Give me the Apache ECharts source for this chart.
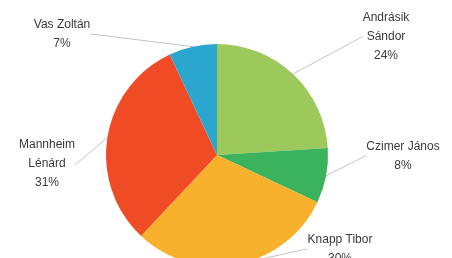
<!DOCTYPE html>
<html>
<head>
<meta charset="utf-8">
<script src="https://cdn.jsdelivr.net/npm/echarts@6/dist/echarts.min.js"></script>
<style>html,body{margin:0;padding:0;background:#fff;}#c{width:452px;height:258px;}</style>
</head>
<body>
<div id="c"></div>
<script>
const names = ['Andrásik\nSándor', 'Czimer János', 'Knapp Tibor', 'Mannheim\nLénárd', 'Vas Zoltán'];
const values = [24, 8, 30, 31, 7];
const colors = ['#9dc85b', '#3bb35c', '#f8b12d', '#ef4b24', '#2aa6cf'];
// label anchor positions (layout only)
const labelPos = [[386, 37], [403, 156], [340, 249], [47, 164], [62, 34]];

const chart = echarts.init(document.getElementById('c'), null, {renderer: 'canvas'});
chart.setOption({
  animation: false,
  series: [{
    type: 'pie',
    center: [217, 155],
    radius: 111,
    startAngle: 90,
    clockwise: true,
    data: names.map((n, i) => ({name: n, value: values[i], itemStyle: {color: colors[i]}})),
    itemStyle: {borderWidth: 0},
    label: {
      show: true,
      formatter: '{b}\n{d}%',
      color: '#3a3a3a',
      fontFamily: 'Liberation Sans',
      fontSize: 12,
      lineHeight: 19,
      align: 'center'
    },
    labelLine: {show: true, length: 8, length2: 1, lineStyle: {color: '#c4c4c4', width: 1}},
    labelLayout: function (p) {
      const pos = labelPos[p.dataIndex];
      return {x: pos[0], y: pos[1], align: 'center', verticalAlign: 'middle'};
    }
  }]
});
</script>
</body>
</html>
